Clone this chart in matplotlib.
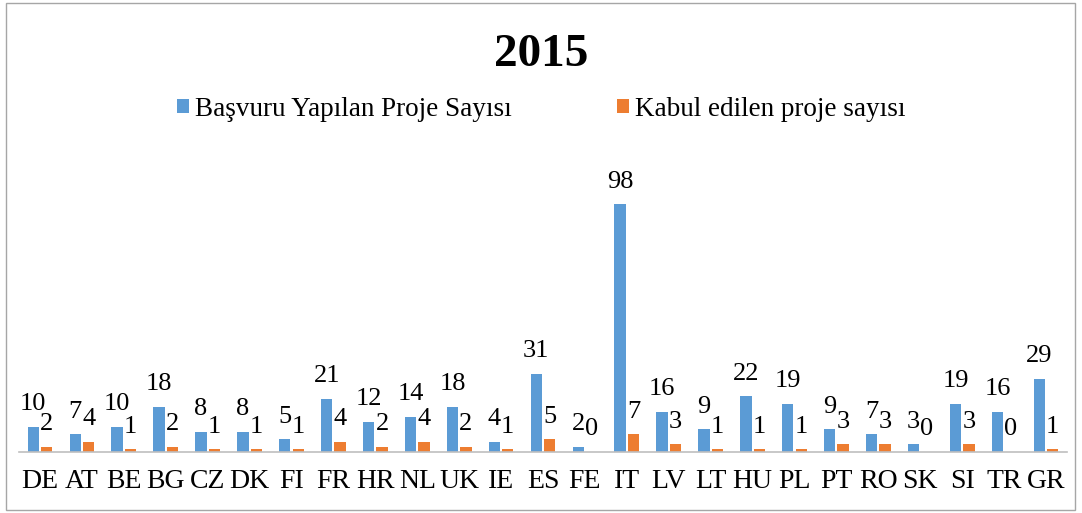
import matplotlib
matplotlib.use('Agg')
import matplotlib.pyplot as plt
from matplotlib.patches import Rectangle
import numpy as np

plt.rcParams['font.family'] = ['Liberation Serif', 'DejaVu Serif']

countries = ['DE', 'AT', 'BE', 'BG', 'CZ', 'DK', 'FI', 'FR', 'HR', 'NL', 'UK', 'IE', 'ES',
             'FE', 'IT', 'LV', 'LT', 'HU', 'PL', 'PT', 'RO', 'SK', 'SI', 'TR', 'GR']
applied = [10, 7, 10, 18, 8, 8, 5, 21, 12, 14, 18, 4, 31, 2, 98, 16, 9, 22, 19, 9, 7, 3, 19, 16, 29]
accepted = [2, 4, 1, 2, 1, 1, 1, 4, 2, 4, 2, 1, 5, 0, 7, 3, 1, 1, 1, 3, 3, 0, 3, 0, 1]

blue = '#5B9BD5'
orange = '#ED7D31'

fig = plt.figure(figsize=(10.82, 5.13), dpi=100)
ax = fig.add_axes([19 / 1082, 61 / 513, 1048 / 1082, 278 / 513])

x = np.arange(len(countries))
w = 0.27
b1 = ax.bar(x - 0.16, applied, w, color=blue, label='Başvuru Yapılan Proje Sayısı')
b2 = ax.bar(x + 0.16, accepted, w, color=orange, label='Kabul edilen proje sayısı')

for bars, vals in [(b1, applied), (b2, accepted)]:
    for bar, v in zip(bars, vals):
        ax.annotate(str(v), (bar.get_x() + bar.get_width() / 2, v),
                    xytext=(0, 12), textcoords='offset points',
                    ha='center', va='baseline', fontsize=19)

ax.set_xlim(-0.5, len(countries) - 0.5)
ax.set_ylim(0, 110)
ax.set_xticks(x)
ax.set_xticklabels(countries, fontsize=20)
ax.tick_params(axis='x', length=0, pad=12)
ax.set_yticks([])
for s in ['top', 'right', 'left']:
    ax.spines[s].set_visible(False)
ax.spines['bottom'].set_color('#BFBFBF')
ax.spines['bottom'].set_linewidth(1.2)

fig.text(0.5, 1 - 55 / 513, '2015', ha='center', va='center', fontsize=34, fontweight='bold')
fig.legend(handles=[b1, b2], loc='center', bbox_to_anchor=(0.5, 1 - 109 / 513), ncol=2,
           frameon=False, fontsize=19.5, handlelength=0.45, handleheight=0.45,
           handletextpad=0.2, columnspacing=3.9)

fig.patches.append(Rectangle((6 / 1082, 3 / 513), 1 - 13 / 1082, 1 - 6 / 513,
                             transform=fig.transFigure, fill=False,
                             edgecolor='#A6A6A6', linewidth=1))

fig.savefig('out.png', dpi=100)
